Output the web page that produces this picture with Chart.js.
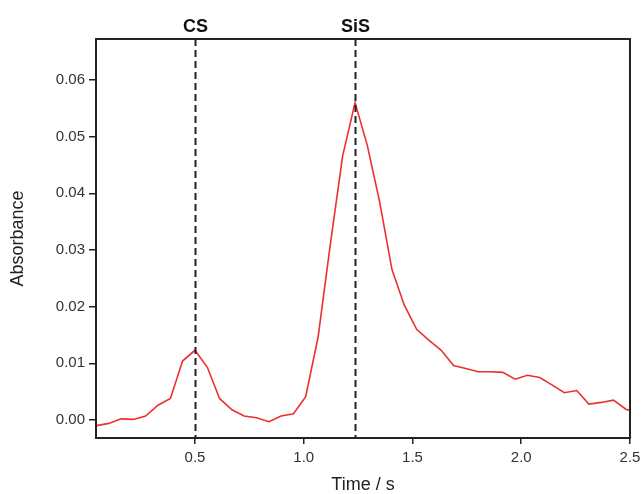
<!DOCTYPE html>
<html>
<head>
<meta charset="utf-8">
<script src="https://cdn.jsdelivr.net/npm/chart.js@4/dist/chart.umd.min.js"></script>
<style>
  html, body { margin: 0; padding: 0; background: #fff; }
  #wrap { width: 642px; height: 494px; }
</style>
</head>
<body>
<div id="wrap"><canvas id="absChart" width="642" height="494"></canvas></div>
<script>
// time (s) and absorbance
const timeValues = [0.047, 0.104, 0.160, 0.217, 0.273, 0.330, 0.387, 0.443, 0.500, 0.557,
  0.613, 0.670, 0.726, 0.783, 0.840, 0.896, 0.953, 1.009, 1.066, 1.123,
  1.179, 1.236, 1.292, 1.349, 1.406, 1.462, 1.519, 1.575, 1.632, 1.689,
  1.745, 1.802, 1.858, 1.915, 1.972, 2.028, 2.085, 2.141, 2.198, 2.255,
  2.311, 2.368, 2.424, 2.481, 2.538];
const absorbance = [-0.0010, -0.0006, 0.0002, 0.0001, 0.0007, 0.0026, 0.0038, 0.0104, 0.0123, 0.0093,
  0.0038, 0.0018, 0.0007, 0.0004, -0.0003, 0.0007, 0.0011, 0.0041, 0.0146, 0.0312,
  0.0466, 0.0560, 0.0485, 0.0385, 0.0265, 0.0203, 0.0160, 0.0141, 0.0123, 0.0096,
  0.0091, 0.0085, 0.0085, 0.0084, 0.0072, 0.0079, 0.0075, 0.0062, 0.0048, 0.0052,
  0.0028, 0.0031, 0.0035, 0.0019, 0.0013];

const xTicks = [0.5, 1.0, 1.5, 2.0, 2.5];
const yTicks = [0.00, 0.01, 0.02, 0.03, 0.04, 0.05, 0.06];

// marker lines at the top
const markerLabels = ['CS', 'SiS'];
const markerTimes = [0.5, 1.237];

const points = timeValues.map((t, i) => ({ x: t, y: absorbance[i] }));

// box border + dashed marker lines
const framePlugin = {
    id: 'frame',
    afterDatasetsDraw(chart) {
        const ctx = chart.ctx;
        const area = chart.chartArea;
        const xs = chart.scales.x;
        ctx.save();
        ctx.strokeStyle = '#222';
        ctx.lineWidth = 2;
        ctx.setLineDash([]);
        ctx.strokeRect(area.left, area.top, area.right - area.left, area.bottom - area.top);

        ctx.lineWidth = 2;
        ctx.setLineDash([7, 4]);
        ctx.font = 'bold 18px "Liberation Sans", Arial, sans-serif';
        ctx.fillStyle = '#111';
        ctx.textAlign = 'center';
        ctx.textBaseline = 'alphabetic';
        markerTimes.forEach((t, i) => {
            const px = Math.round(xs.getPixelForValue(t)) + 0.5;
            ctx.beginPath();
            ctx.moveTo(px, area.top);
            ctx.lineTo(px, area.bottom);
            ctx.stroke();
            ctx.fillText(markerLabels[i], px, 32);
        });
        ctx.restore();
    }
};

Chart.defaults.font.family = '"Liberation Sans", Arial, sans-serif';
Chart.defaults.color = '#333';

new Chart(document.getElementById('absChart'), {
    type: 'line',
    data: {
        datasets: [{
            label: 'Absorbance',
            data: points,
            borderColor: '#ec3030',
            borderWidth: 1.6,
            pointRadius: 0,
            fill: false,
            tension: 0
        }]
    },
    options: {
        responsive: false,
        animation: false,
        layout: { padding: { top: 39, right: 12, left: 0, bottom: 0 } },
        plugins: {
            legend: { display: false },
            tooltip: { enabled: false }
        },
        scales: {
            x: {
                type: 'linear',
                min: 0.045,
                max: 2.5,
                afterBuildTicks: scale => { scale.ticks = xTicks.map(v => ({ value: v })); },
                afterFit: scale => {
                    scale.height = 56;
                    scale.paddingLeft = 0;
                    scale.paddingRight = 0;
                },
                ticks: {
                    callback: v => v.toFixed(1),
                    font: { size: 15 },
                    padding: 5,
                    maxRotation: 0
                },
                grid: {
                    display: true,
                    drawOnChartArea: false,
                    drawTicks: true,
                    tickLength: 6,
                    color: '#222',
                    lineWidth: 1.5
                },
                border: { display: false },
                title: {
                    display: true,
                    text: 'Time / s',
                    font: { size: 18, lineHeight: 1 },
                    color: '#222',
                    padding: { top: 0, bottom: 0 }
                }
            },
            y: {
                type: 'linear',
                min: -0.00318,
                max: 0.06723,
                afterBuildTicks: scale => { scale.ticks = yTicks.map(v => ({ value: v })); },
                afterFit: scale => {
                    scale.width = 96;
                    scale.paddingTop = 0;
                    scale.paddingBottom = 0;
                },
                ticks: {
                    callback: v => v.toFixed(2),
                    font: { size: 15 },
                    padding: 4
                },
                grid: {
                    display: true,
                    drawOnChartArea: false,
                    drawTicks: true,
                    tickLength: 7,
                    color: '#222',
                    lineWidth: 1.5
                },
                border: { display: false },
                title: {
                    display: true,
                    text: 'Absorbance',
                    font: { size: 18, lineHeight: 1 },
                    color: '#222',
                    padding: { top: 9, bottom: 0 }
                }
            }
        }
    },
    plugins: [framePlugin]
});
</script>
</body>
</html>
